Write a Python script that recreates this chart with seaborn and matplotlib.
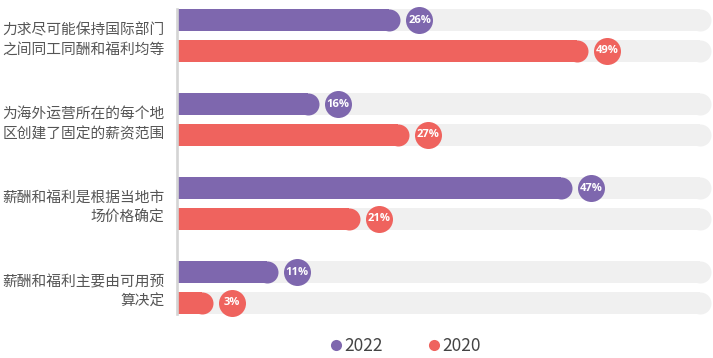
import numpy as np
import pandas as pd
import matplotlib.pyplot as plt
import matplotlib.transforms as mtransforms
from matplotlib.lines import Line2D
import seaborn as sns

sns.set_style("white")
plt.rcParams['font.family'] = ['Noto Sans CJK SC', 'DejaVu Sans']

labels = [
    "力求尽可能保持国际部门\n之间同工同酬和福利均等",
    "为海外运营所在的每个地\n区创建了固定的薪资范围",
    "薪酬和福利是根据当地市\n场价格确定",
    "薪酬和福利主要由可用预\n算决定",
]
years = ["2022", "2020"]
vals_2022 = [26, 16, 47, 11]
vals_2020 = [49, 27, 21, 3]
track_max = 64

colors = {"2022": "#7E67AE", "2020": "#EF635E"}
track_color = "#F0F0F0"

df = pd.DataFrame({
    "label": labels * 2,
    "year": ["2022"] * 4 + ["2020"] * 4,
    "value": vals_2022 + vals_2020,
})
df["track"] = track_max

fig = plt.figure(figsize=(7.13, 3.58), dpi=100)
ax = fig.add_axes([177 / 713, 1 - 314 / 358, 523 / 713, 305 / 358])

# background tracks
sns.barplot(data=df, y="label", x="track", hue="year", hue_order=years,
            order=labels, palette=[track_color, track_color], width=0.738,
            gap=0.29, orient="h", legend=False, ax=ax, linewidth=0,
            saturation=1)
n_track = len(ax.patches)
sns.barplot(data=df, y="label", x="value", hue="year", hue_order=years,
            order=labels, palette=colors, width=0.738, gap=0.29, orient="h",
            legend=False, ax=ax, linewidth=0, saturation=1)

bar_h_pt = 22 * 72 / 100
lab_off = mtransforms.offset_copy(ax.transData, fig=fig, x=30, y=0, units="dots")
for i, p in enumerate(ax.patches):
    yc = p.get_y() + p.get_height() / 2
    w = p.get_width()
    c = p.get_facecolor()
    # rounded end cap
    ax.scatter([w], [yc], s=bar_h_pt ** 2, color=c, linewidth=0,
               clip_on=False, zorder=p.get_zorder())
    if i >= n_track:
        ax.scatter([w], [yc], s=(27 * 0.72) ** 2, color=c, linewidth=0,
                   clip_on=False, transform=lab_off, zorder=5)
        ax.text(w, yc, f"{int(round(w))}%", transform=lab_off, ha="center",
                va="center", color="white", fontsize=8, fontweight="bold",
                family=["Open Sans", "DejaVu Sans"], zorder=6)

ax.set_xlim(0, track_max)
ax.set_ylim(3.3155, -0.3155)
ax.set_xlabel("")
ax.set_ylabel("")
ax.set_xticks([])
ax.tick_params(axis="y", length=0, pad=9, labelsize=10.6, labelcolor="#555555")
for t in ax.get_yticklabels():
    t.set_linespacing(1.5)
    t.set_multialignment("right")
    t.set_y(t.get_position()[1])
for s in ["top", "right", "bottom"]:
    ax.spines[s].set_visible(False)
ax.spines["left"].set_color("#D4D4D4")
ax.spines["left"].set_linewidth(1.9)

handles = [Line2D([], [], marker="o", linestyle="", markersize=8,
                  markerfacecolor=colors[y], markeredgewidth=0, label=y)
           for y in years]
fig.legend(handles=handles, loc="center", bbox_to_anchor=(0.568, 0.034), ncol=2,
           frameon=False, fontsize=12.5, handletextpad=0.05, columnspacing=2.6,
           labelcolor="#444444", handlelength=0.8)

fig.savefig("out.png", dpi=100)
